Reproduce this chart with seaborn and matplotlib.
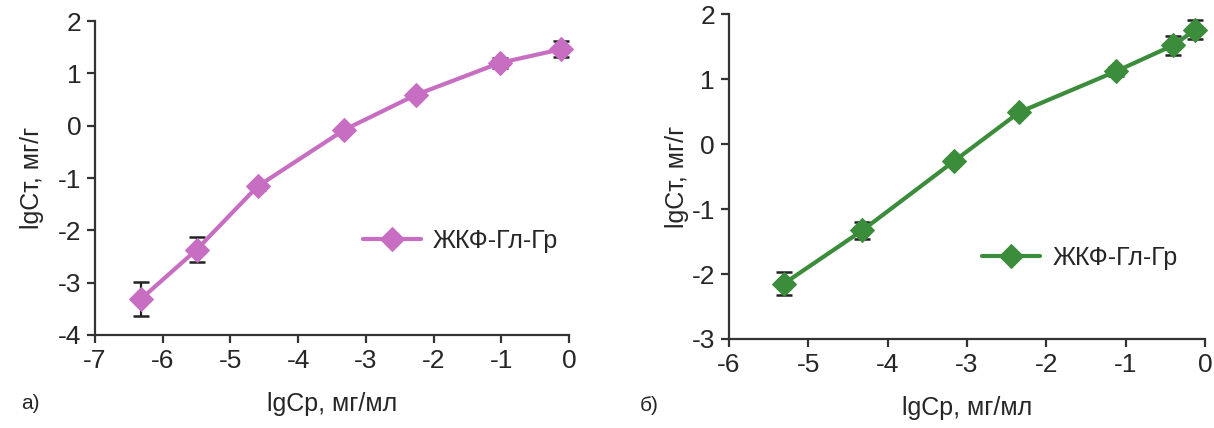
import matplotlib
matplotlib.use('Agg')
import matplotlib.pyplot as plt
import seaborn as sns
import pandas as pd

# ── Data ────────────────────────────────────────────────────────────────────
series_name = 'ЖКФ-Гл-Гр'

# panel а)
a_lgcp = [-6.32, -5.5, -4.6, -3.32, -2.26, -1.02, -0.12]
a_lgct = [-3.31, -2.37, -1.16, -0.08, 0.59, 1.2, 1.46]
a_err = [0.33, 0.24, 0.06, 0.05, 0.05, 0.1, 0.15]

# panel б)
b_lgcp = [-5.31, -4.32, -3.16, -2.34, -1.12, -0.4, -0.12]
b_lgct = [-2.15, -1.33, -0.26, 0.49, 1.12, 1.52, 1.76]
b_err = [0.18, 0.13, 0.05, 0.05, 0.07, 0.15, 0.15]

a_xticks = [-7, -6, -5, -4, -3, -2, -1, 0]
a_yticks = [-4, -3, -2, -1, 0, 1, 2]
b_xticks = [-6, -5, -4, -3, -2, -1, 0]
b_yticks = [-3, -2, -1, 0, 1, 2]

xlabel = 'lgCр, мг/мл'
ylabel = 'lgCт, мг/г'

sns.set_style('ticks')
plt.rcParams['font.family'] = ['Liberation Sans Narrow', 'Liberation Sans', 'DejaVu Sans']
plt.rcParams['axes.unicode_minus'] = False

fig = plt.figure(figsize=(12.14, 4.28), dpi=100)
ax_a = fig.add_axes([0.0783, 0.2173, 0.3904, 0.7336])
ax_b = fig.add_axes([0.6005, 0.208, 0.392, 0.759])

panels = [
    (ax_a, a_lgcp, a_lgct, a_err, '#c76ec2', a_xticks, a_yticks, 1.025, 0.30, 10),
    (ax_b, b_lgcp, b_lgct, b_err, '#3b8c3b', b_xticks, b_yticks, 0.99, 0.25, 2),
]

for ax, xs, ys, errs, color, xt, yt, lx, ly, ypad in panels:
    df = pd.DataFrame({'x': xs, 'y': ys})
    ax.errorbar(xs, ys, yerr=errs, fmt='none', ecolor='#222222',
                elinewidth=1.6, capsize=6, capthick=1.8, zorder=2, clip_on=False)
    sns.lineplot(data=df, x='x', y='y', ax=ax, color=color, lw=3,
                 marker='D', markersize=12, markeredgecolor=color,
                 label=series_name, zorder=3, clip_on=False)
    ax.set_xlim(xt[0], xt[-1])
    ax.set_ylim(yt[0], yt[-1])
    ax.set_xticks(xt)
    ax.set_yticks(yt)
    ax.set_xticklabels([str(v) for v in xt])
    ax.set_yticklabels([str(v) for v in yt])
    ax.tick_params(labelsize=19, length=6, width=1.6, color='#333333', pad=4)
    for s in ['left', 'bottom']:
        ax.spines[s].set_linewidth(1.6)
        ax.spines[s].set_color('#333333')
    sns.despine(ax=ax)
    ax.set_xlabel(xlabel, fontsize=18, labelpad=14)
    ax.set_ylabel(ylabel, fontsize=18, labelpad=ypad)
    ax.legend(loc='center right', bbox_to_anchor=(lx, ly), frameon=False,
              fontsize=18, handlelength=2.3, handletextpad=0.5)

fig.text(0.017, 0.045, 'а)', fontsize=15)
fig.text(0.527, 0.04, 'б)', fontsize=15)

plt.savefig('out.png', dpi=100)
plt.close()
